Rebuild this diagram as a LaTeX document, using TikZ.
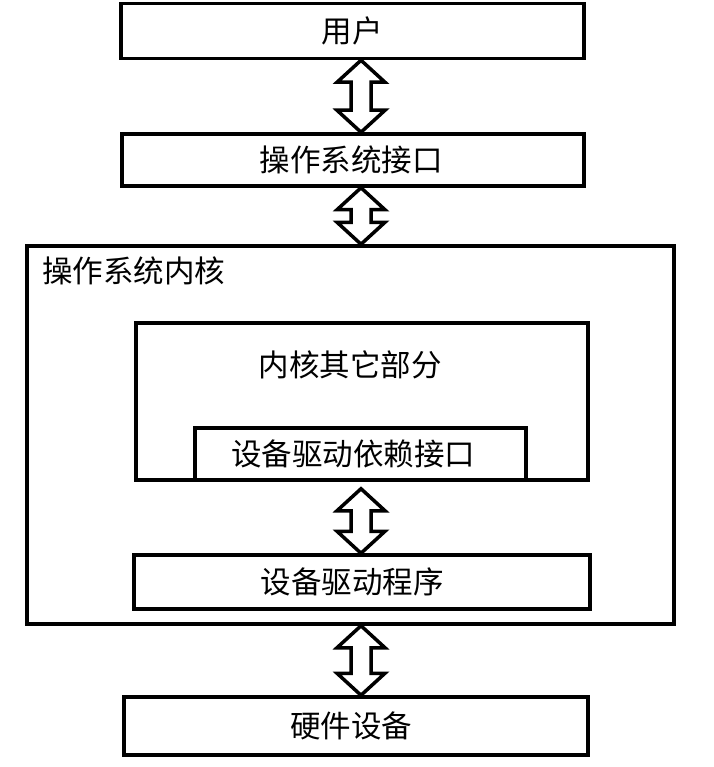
\documentclass[tikz,border=0pt]{standalone}
\usepackage{fontspec}
\setmainfont{Noto Sans CJK SC}
\usetikzlibrary{calc}
\begin{document}
\begin{tikzpicture}[x=1pt,y=-1pt,
  box/.style={draw, line width=3.5pt, fill=white, inner sep=0pt},
  txt/.style={font=\fontsize{30.5}{32}\selectfont, inner sep=0pt},
  darr/.style={draw, line width=3.5pt, fill=white, line join=miter}]
\newcommand\darrow[2]{\path[darr] let \p1=(#1), \p2=(#2) in
  (\x1,\y1) -- ++(24,22) -- ++(-14,0) -- ($(\x2,\y2)+(10,-22)$) -- ++(14,0) -- (\x2,\y2)
  -- ++(-24,-22) -- ++(14,0) -- ($(\x1,\y1)+(-10,22)$) -- ++(-14,0) -- cycle;}
\useasboundingbox (0,0) rectangle (713,767);
\coordinate (ax) at (361,0);
\node[box, minimum width=463pt, minimum height=55pt] (user) at (352.5,31) {};
\node[txt] (userlabel) at (352,31) {用户};
\node[box, minimum width=462pt, minimum height=52pt] (iface) at (353,160) {};
\node[txt] (ifacelabel) at (351,160) {操作系统接口};
\node[box, minimum width=647pt, minimum height=378pt] (kernel) at (350.5,435) {};
\node[txt, anchor=west] (klabel) at (42,271) {操作系统内核};
\node[box, minimum width=452pt, minimum height=157pt] (rest) at (362,401.5) {};
\node[txt] (restlabel) at (350,365) {内核其它部分};
\node[box, minimum width=331pt, minimum height=52pt] (dep) at (360.5,454) {};
\node[txt] (deplabel) at (353,454) {设备驱动依赖接口};
\node[box, minimum width=456pt, minimum height=54pt] (drv) at (362,582) {};
\node[txt] (drvlabel) at (352,582) {设备驱动程序};
\node[box, minimum width=464pt, minimum height=58pt] (hw) at (356,726) {};
\node[txt] (hwlabel) at (351,726) {硬件设备};
\darrow{user.south -| ax}{iface.north -| ax}
\darrow{iface.south -| ax}{kernel.north -| ax}
\darrow{$(dep.south -| ax)+(0,7)$}{drv.north -| ax}
\darrow{kernel.south -| ax}{hw.north -| ax}
\end{tikzpicture}
\end{document}
